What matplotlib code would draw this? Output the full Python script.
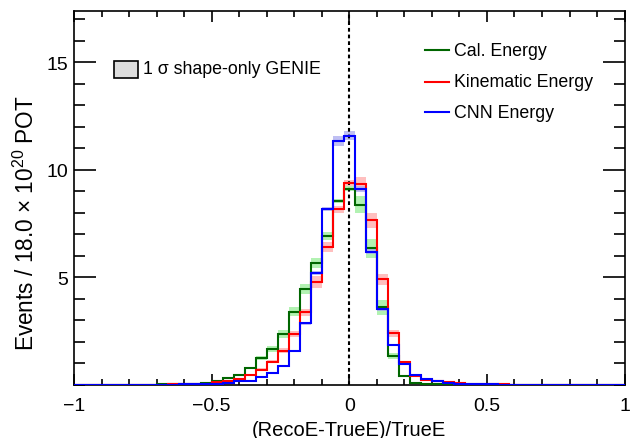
import numpy as np
import matplotlib
matplotlib.use("Agg")
import matplotlib.pyplot as plt
from matplotlib.patches import Rectangle
from matplotlib.lines import Line2D
from matplotlib.ticker import MultipleLocator, FixedLocator

plt.rcParams['font.family'] = ['Liberation Sans', 'DejaVu Sans']
plt.rcParams['mathtext.fontset'] = 'custom'
plt.rcParams['mathtext.rm'] = 'Liberation Sans'
plt.rcParams['mathtext.it'] = 'Liberation Sans:italic'

# ---- data: bin edges (width 0.04, centred on multiples of 0.04) ----
bin_lo, bin_hi, n_bins = -1.02, 1.02, 51

cal_energy = [0.01, 0.01, 0.01, 0.01, 0.01, 0.01, 0.01, 0.01, 0.02, 0.02, 0.03, 0.05,
              0.09, 0.17, 0.32, 0.48, 0.79, 1.24, 1.67, 2.36, 3.40, 4.48, 5.66, 6.92, 8.55,
              9.13,
              8.39, 6.35, 3.60, 1.35, 0.42, 0.11, 0.05, 0.03, 0.02, 0.02, 0.01, 0.01,
              0.01, 0.01, 0.01, 0.01, 0.01, 0.01, 0.01, 0.01, 0.01, 0.01, 0.01, 0.01, 0.01]
kin_energy = [0.01, 0.01, 0.01, 0.01, 0.01, 0.01, 0.01, 0.01, 0.01, 0.02, 0.02, 0.03,
              0.05, 0.12, 0.19, 0.28, 0.46, 0.71, 1.08, 1.59, 2.36, 3.37, 4.79, 6.41, 8.16,
              9.40,
              9.36, 7.65, 4.91, 2.40, 1.05, 0.40, 0.25, 0.18, 0.12, 0.08, 0.05, 0.03,
              0.02, 0.02, 0.01, 0.01, 0.01, 0.01, 0.01, 0.01, 0.01, 0.01, 0.01, 0.01, 0.01]
cnn_energy = [0.01, 0.01, 0.01, 0.01, 0.01, 0.01, 0.01, 0.01, 0.01, 0.01, 0.02, 0.02,
              0.03, 0.05, 0.09, 0.17, 0.20, 0.36, 0.56, 0.87, 1.59, 2.86, 5.19, 8.19, 11.33,
              11.60,
              9.13, 6.20, 3.52, 1.86, 0.95, 0.44, 0.28, 0.18, 0.09, 0.05, 0.03, 0.02,
              0.02, 0.01, 0.01, 0.01, 0.01, 0.01, 0.01, 0.01, 0.01, 0.01, 0.01, 0.01, 0.01]

# 1 sigma shape-only GENIE band half-widths
cal_err = [0, 0, 0, 0, 0, 0, 0, 0, 0, 0, 0, 0.01,
           0.01, 0.02, 0.03, 0.04, 0.06, 0.09, 0.12, 0.17, 0.20, 0.23, 0.22, 0.19, 0.10,
           0.10,
           0.40, 0.44, 0.35, 0.15, 0.06, 0.02, 0.01, 0, 0, 0, 0, 0,
           0, 0, 0, 0, 0, 0, 0, 0, 0, 0, 0, 0, 0]
kin_err = [0, 0, 0, 0, 0, 0, 0, 0, 0, 0, 0, 0,
           0.01, 0.01, 0.02, 0.03, 0.04, 0.06, 0.08, 0.12, 0.15, 0.17, 0.27, 0.22, 0.15,
           0.15,
           0.33, 0.35, 0.25, 0.17, 0.08, 0.03, 0.02, 0.01, 0.01, 0, 0, 0,
           0, 0, 0, 0, 0, 0, 0, 0, 0, 0, 0, 0, 0]
cnn_err = [0, 0, 0, 0, 0, 0, 0, 0, 0, 0, 0, 0,
           0, 0.01, 0.01, 0.01, 0.02, 0.02, 0.03, 0.04, 0.05, 0.07, 0.10, 0.08, 0.23,
           0.20,
           0.14, 0.10, 0.10, 0.06, 0.04, 0.02, 0.01, 0.01, 0, 0, 0, 0,
           0, 0, 0, 0, 0, 0, 0, 0, 0, 0, 0, 0, 0]

labels = ["Cal. Energy", "Kinematic Energy", "CNN Energy"]
band_label = "1 \u03c3 shape-only GENIE"
xtick_vals = [-1, -0.5, 0, 0.5, 1]
xtick_labels = ["\u22121", "\u22120.5", "0", "0.5", "1"]
ytick_vals = [5, 10, 15]

# ---- styling ----
line_cols = ["#006600", "#ff0000", "#0000ff"]
band_cols = ["#99ee99", "#ffaaaa", "#aaaaf0"]

edges = np.linspace(bin_lo, bin_hi, n_bins + 1)
centers = 0.5 * (edges[:-1] + edges[1:])
width = edges[1] - edges[0]

fig = plt.figure(figsize=(6.38, 4.39), dpi=100)
ax = fig.add_axes([0.116, 0.121, 0.863, 0.852])

series = [cal_energy, kin_energy, cnn_energy]
errs = [cal_err, kin_err, cnn_err]

for vals, err, bc in zip(series, errs, band_cols):
    v = np.asarray(vals); e = np.asarray(err)
    ax.bar(centers, 2 * e, bottom=v - e, width=width, color=bc, alpha=0.75,
           linewidth=0, zorder=1)

for vals, lc in zip(series, line_cols):
    ax.stairs(vals, edges, color=lc, linewidth=1.5, baseline=None, zorder=4)

ax.axvline(0, color="black", linestyle=(0, (1.8, 1.4)), linewidth=1.5, zorder=3)

ax.set_xlim(-1, 1)
ax.set_ylim(0, 17.4)

ax.xaxis.set_major_locator(FixedLocator(xtick_vals))
ax.set_xticklabels(xtick_labels)
ax.xaxis.set_minor_locator(MultipleLocator(0.1))
ax.yaxis.set_major_locator(FixedLocator(ytick_vals))
ax.yaxis.set_minor_locator(MultipleLocator(1))

ax.tick_params(axis='both', which='both', direction='in', top=True, right=True,
               labelsize=14, width=1.2, colors='black')
ax.tick_params(axis='x', which='major', length=8, pad=9)
ax.tick_params(axis='x', which='minor', length=4)
ax.tick_params(axis='y', which='major', length=16, pad=4)
ax.tick_params(axis='y', which='minor', length=8)
for s in ax.spines.values():
    s.set_linewidth(1.2)

ax.set_xlabel("(RecoE-TrueE)/TrueE", fontsize=14.5, labelpad=4)
ax.set_ylabel("Events / 18.0 $\\times$ 10$^{20}$ POT", fontsize=16.3)
ax.yaxis.set_label_coords(-0.064, 0.436)

# legend 1: band box
ax.add_patch(Rectangle((0.073, 0.821), 0.044, 0.045, transform=ax.transAxes,
                       facecolor="#dddddd", edgecolor="black", linewidth=1.2, zorder=5))
ax.text(0.125, 0.845, band_label, transform=ax.transAxes,
        fontsize=12.8, va='center', ha='left')

# legend 2: lines
row_y = [0.894, 0.811, 0.729]
for lab, c, yy in zip(labels, line_cols, row_y):
    ax.add_line(Line2D([0.637, 0.681], [yy, yy], transform=ax.transAxes, color=c,
                       linewidth=1.5, zorder=5))
    ax.text(0.690, yy, lab, transform=ax.transAxes, fontsize=12.8,
            va='center', ha='left')

fig.savefig("out.png", dpi=100)
